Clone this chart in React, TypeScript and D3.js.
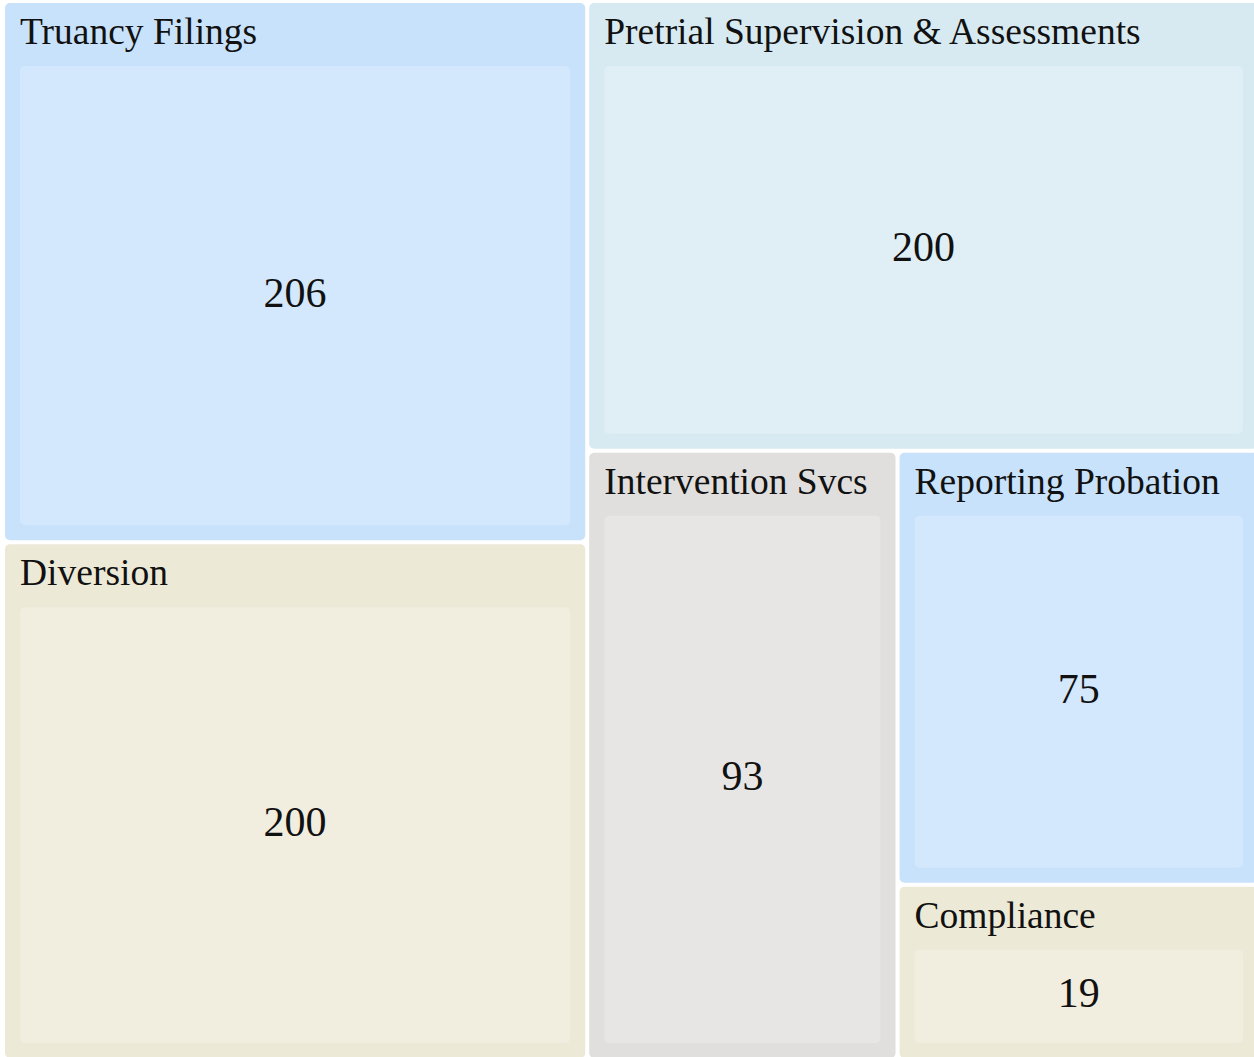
import React from "react";
import * as d3 from "d3";

// programme tiles, in the order the layout places them
const categories = [
  "Truancy Filings",
  "Diversion",
  "Pretrial Supervision & Assessments",
  "Intervention Svcs",
  "Reporting Probation",
  "Compliance",
];
// number printed in each tile
const counts = [206, 200, 200, 93, 75, 19];
const tileWeights = [209, 200, 200, 125, 104, 42];

const outerColors = ["#c9e2fb", "#ede9d7", "#d7eaf2", "#e0dfdd", "#c9e2fb", "#ede9d7"];
const innerColors = ["#d3e8fc", "#f1eddf", "#e0eef5", "#e7e6e4", "#d3e8fc", "#f1eddf"];

const width = 1254;
const height = 1057;
const font = "'Liberation Serif', 'DejaVu Serif', serif";

const App = () => {
  const root = React.useMemo(() => {
    const data = {
      name: "root",
      children: categories.map((name, i) => ({
        name,
        idx: i,
        children: [{ name, idx: i, weight: tileWeights[i] }],
      })),
    };
    const h = d3
      .hierarchy<any>(data)
      .sum((d) => d.weight || 0)
      .sort((a, b) => (b.value || 0) - (a.value || 0));

    return d3
      .treemap<any>()
      .tile(d3.treemapSquarify.ratio(1))
      .size([1253, 1055])
      .paddingInner(4)
      .paddingTop((d) => (d.depth === 1 ? 63 : 0))
      .paddingLeft((d) => (d.depth === 1 ? 15 : 0))
      .paddingRight((d) => (d.depth === 1 ? 15 : 0))
      .paddingBottom((d) => (d.depth === 1 ? 15 : 0))(h);
  }, []);

  const groups = root.children || [];
  const leaves = root.leaves();

  return (
    <svg
      width={width}
      height={height}
      style={{ position: "absolute", left: 0, top: 0, background: "#fff" }}
    >
      <g transform="translate(5,3)">
        {groups.map((g: any) => (
          <g key={g.data.name}>
            <rect
              x={g.x0}
              y={g.y0}
              width={g.x1 - g.x0}
              height={g.y1 - g.y0}
              rx={5}
              fill={outerColors[g.data.idx]}
            />
            <text
              x={g.x0 + 15}
              y={g.y0 + 41}
              fontFamily={font}
              fontSize={37.5}
              fill="#111"
            >
              {g.data.name}
            </text>
          </g>
        ))}
        {leaves.map((l: any) => (
          <g key={"leaf-" + l.data.name}>
            <rect
              x={l.x0}
              y={l.y0}
              width={l.x1 - l.x0}
              height={l.y1 - l.y0}
              rx={5}
              fill={innerColors[l.data.idx]}
            />
            <text
              x={(l.x0 + l.x1) / 2}
              y={(l.y0 + l.y1) / 2 - 3}
              textAnchor="middle"
              dominantBaseline="central"
              fontFamily={font}
              fontSize={42}
              fill="#111"
            >
              {counts[l.data.idx]}
            </text>
          </g>
        ))}
      </g>
    </svg>
  );
};

export default App;
